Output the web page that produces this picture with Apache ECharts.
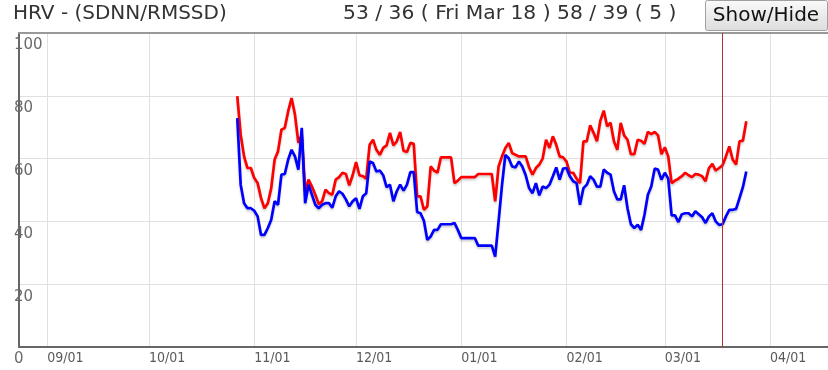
<!DOCTYPE html>
<html>
<head>
<meta charset="utf-8">
<script src="https://cdn.jsdelivr.net/npm/echarts@6/dist/echarts.min.js"></script>
<style>
html,body{margin:0;padding:0;background:#fff;}
#chart{width:828px;height:370px;}
</style>
</head>
<body>
<div id="chart"></div>
<script>
// ---- data (daily values starting Oct 27, 2015) ----
const startDate = [2015, 9, 27];
const sdnn = [
  79.9, 67.6, 60.7, 57.0, 57.0, 53.8, 52.2, 47.4, 44.2, 45.8, 50.6, 59.7, 62.3, 69.2, 69.8, 75.1, 79.3, 74.0, 65.0, 67.6, 49.6, 53.3, 51.1, 48.5, 45.5, 46.4, 50.1, 49.0,
  48.5, 53.3, 54.1, 55.5, 55.1, 51.5, 54.7, 58.9, 54.7, 54.4, 53.6, 64.4, 66.0, 62.8, 61.2, 63.4, 64.2, 68.2, 64.2, 65.5, 68.5, 62.5, 62.1, 65.0, 64.7, 48.0, 48.0, 43.7, 44.8, 57.5, 56.2,
  55.5, 60.4, 60.4, 60.4, 60.4, 52.2, 53.0, 54.1, 54.1, 54.1, 54.1, 54.1, 55.1, 55.1, 55.1, 55.1, 55.1, 46.4, 57.5, 60.7, 63.4, 65.0, 61.8, 61.2, 60.7, 60.7, 60.7, 57.2, 54.9,
  57.0, 58.1, 60.1, 66.0, 63.4, 67.1, 64.4, 60.7, 60.4, 59.1, 55.5, 55.5, 53.6, 52.2, 65.5, 65.5, 70.6, 68.2, 65.5, 72.1, 75.3, 70.3, 71.4, 65.5, 62.8, 71.4, 67.4, 66.0, 61.4, 61.4,
  66.0, 65.7, 64.7, 68.5, 67.8, 68.5, 67.4, 61.4, 63.6, 60.7, 52.2, 53.0, 53.6, 54.4, 55.5, 54.7, 54.1, 55.1, 54.9, 54.4, 52.8, 57.0, 58.3, 56.2, 57.0, 57.9, 60.7, 63.9, 59.7, 58.1, 65.5, 65.7, 71.9
];
const rmssd = [
  72.9, 51.7, 45.8, 44.2, 44.2, 43.4, 41.6, 35.7, 35.7, 37.9, 40.5, 46.4, 45.3, 54.9, 55.1, 59.7, 62.8, 60.7, 56.5, 69.8, 45.8, 51.7, 48.5, 45.3, 44.2, 45.3, 45.8, 45.8,
  44.4, 48.0, 49.6, 48.8, 47.0, 44.8, 46.4, 47.4, 44.0, 48.0, 49.0, 59.1, 58.6, 55.9, 56.2, 54.7, 50.9, 51.7, 46.4, 49.6, 51.7, 49.8, 51.7, 55.7, 55.7, 43.0, 42.6, 40.2, 34.1, 35.2, 37.3,
  37.3, 39.1, 39.1, 39.1, 39.1, 39.5, 37.3, 34.7, 34.7, 34.7, 34.7, 34.7, 32.3, 32.3, 32.3, 32.3, 32.3, 28.8, 40.0, 51.5, 61.2, 60.1, 57.5, 57.2, 59.1, 57.5, 54.7, 50.6, 49.0,
  52.2, 48.3, 51.1, 50.6, 51.7, 54.4, 57.2, 53.3, 56.8, 57.0, 54.4, 52.8, 52.2, 45.3, 50.6, 51.7, 54.4, 53.3, 51.1, 51.1, 56.5, 55.5, 54.9, 49.6, 47.0, 47.0, 51.5, 44.2, 39.1, 37.9,
  38.9, 37.3, 42.1, 48.5, 51.1, 56.8, 56.5, 53.3, 55.5, 53.6, 41.9, 41.9, 39.8, 42.3, 42.6, 42.6, 41.6, 43.2, 42.3, 41.3, 39.5, 41.6, 42.6, 40.0, 38.9, 39.1, 41.6, 43.7, 43.7, 44.0, 47.4, 50.9, 55.9
];
const markerDate = [2016, 2, 18];
const axisStart = [2015, 7, 23, 16];
const axisEnd = [2016, 3, 18, 2];
const yTicks = [0, 20, 40, 60, 80, 100];
const titleText = 'HRV - (SDNN/RMSSD)';
const infoText = '53 / 36 ( Fri Mar 18 ) 58 / 39 ( 5 )';
const buttonText = 'Show/Hide';

function dayTs(i) {
  return new Date(startDate[0], startDate[1], startDate[2] + i).getTime();
}
const sdnnData = sdnn.map((v, i) => [dayTs(i), v]);
const rmssdData = rmssd.map((v, i) => [dayTs(i), v]);
const pad = n => (n < 10 ? '0' : '') + n;

const FONT = 'DejaVu Sans';
const chart = echarts.init(document.getElementById('chart'), null, {renderer: 'canvas'});
chart.setOption({
  animation: false,
  backgroundColor: '#fff',
  grid: {left: 19, right: 0, top: 33, bottom: 23, containLabel: false},
  xAxis: [{
    type: 'time',
    min: new Date(axisStart[0], axisStart[1], axisStart[2], axisStart[3]).getTime(),
    max: new Date(axisEnd[0], axisEnd[1], axisEnd[2], axisEnd[3]).getTime(),
    splitNumber: 8,
    minInterval: 28 * 86400000,
    maxInterval: 31 * 86400000,
    axisLine: {show: true, lineStyle: {color: '#666', width: 2}},
    axisTick: {show: false},
    splitLine: {show: true, lineStyle: {color: '#e0e0e0', width: 1}},
    axisLabel: {
      show: true, align: 'left', verticalAlign: 'top', margin: 4,
      color: '#5a5a5a', fontFamily: 'DejaVu Sans Condensed', fontSize: 14,
      hideOverlap: false,
      formatter: v => { const d = new Date(v); return pad(d.getMonth() + 1) + '/' + pad(d.getDate()); }
    }
  }, {
    type: 'time', position: 'top',
    min: new Date(axisStart[0], axisStart[1], axisStart[2], axisStart[3]).getTime(),
    max: new Date(axisEnd[0], axisEnd[1], axisEnd[2], axisEnd[3]).getTime(),
    axisLine: {show: true, lineStyle: {color: '#999', width: 2}},
    axisTick: {show: false}, axisLabel: {show: false}, splitLine: {show: false}
  }],
  yAxis: {
    type: 'value', min: yTicks[0], max: yTicks[yTicks.length - 1], interval: 20,
    axisLine: {show: true, lineStyle: {color: '#666', width: 2}},
    axisTick: {show: false},
    splitLine: {show: true, lineStyle: {color: '#e0e0e0', width: 1}},
    axisLabel: {
      align: 'left', verticalAlign: 'top', margin: 5, padding: [5, 0, 0, 0],
      color: '#6a6a6a', fontFamily: FONT, fontSize: 15
    }
  },
  series: [{
    name: 'SDNN', type: 'line', data: sdnnData, showSymbol: false, symbol: 'none',
    lineStyle: {color: '#ff0000', width: 2.7, shadowColor: 'rgba(0,0,0,0.18)', shadowBlur: 2, shadowOffsetY: 2},
    markLine: {
      silent: true, symbol: ['none', 'none'], label: {show: false},
      lineStyle: {color: '#b03030', width: 1, type: 'solid'},
      data: [{xAxis: new Date(markerDate[0], markerDate[1], markerDate[2]).getTime()}]
    }
  }, {
    name: 'RMSSD', type: 'line', data: rmssdData, showSymbol: false, symbol: 'none',
    lineStyle: {color: '#0000ff', width: 2.7, shadowColor: 'rgba(0,0,0,0.18)', shadowBlur: 2, shadowOffsetY: 2}
  }],
  graphic: [
    {type: 'text', left: 13, top: 4, style: {text: titleText, font: '20px "DejaVu Sans"', fill: '#333'}},
    {type: 'text', left: 343, top: 4, style: {text: infoText, font: '20.3px "DejaVu Sans"', fill: '#333'}},
    {type: 'rect', shape: {x: 705.5, y: 0.5, width: 122, height: 30, r: 2},
      style: {fill: new echarts.graphic.LinearGradient(0, 0, 0, 1, [{offset: 0, color: '#fafafa'}, {offset: 1, color: '#dcdcdc'}]), stroke: '#a0a0a0', lineWidth: 1}},
    {type: 'text', x: 766, y: 16, style: {text: buttonText, font: '20px "DejaVu Sans"', fill: '#111', align: 'center', verticalAlign: 'middle'}}
  ]
});
</script>
</body>
</html>
